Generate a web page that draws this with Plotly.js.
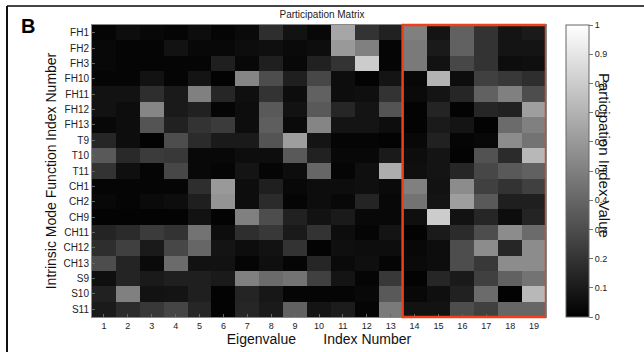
<!DOCTYPE html>
<html>
<head>
<meta charset="utf-8">
<script src="https://cdn.plot.ly/plotly-3.0.1.min.js"></script>
<style>html,body{margin:0;padding:0;background:#fff;}#chart{width:644px;height:352px;}</style>
</head>
<body>
<div id="chart"></div>
<script>
// Eigenvalue index numbers (columns)
const eigenIndex = [1,2,3,4,5,6,7,8,9,10,11,12,13,14,15,16,17,18,19];
// Intrinsic mode function labels (rows, top to bottom)
const imfLabels = ["FH1","FH2","FH3","FH10","FH11","FH12","FH13","T9","T10","T11","CH1","CH2","CH9","CH11","CH12","CH13","S9","S10","S11"];

// Participation index values, one array per row
const rowFH1  = [0.02,0.05,0.03,0.02,0.05,0.02,0.04,0.18,0.07,0.03,0.65,0.20,0.13,0.50,0.08,0.38,0.20,0.08,0.10];
const rowFH2  = [0.03,0.02,0.02,0.07,0.03,0.03,0.05,0.06,0.04,0.05,0.60,0.50,0.02,0.48,0.10,0.38,0.20,0.08,0.08];
const rowFH3  = [0.03,0.02,0.02,0.02,0.02,0.12,0.03,0.12,0.03,0.13,0.20,0.80,0.02,0.48,0.07,0.28,0.20,0.05,0.06];
const rowFH10 = [0.02,0.02,0.07,0.02,0.08,0.01,0.52,0.30,0.12,0.28,0.05,0.01,0.08,0.03,0.70,0.05,0.25,0.22,0.18];
const rowFH11 = [0.07,0.07,0.18,0.10,0.50,0.15,0.06,0.20,0.05,0.38,0.05,0.06,0.20,0.04,0.08,0.15,0.38,0.50,0.30];
const rowFH12 = [0.07,0.05,0.52,0.10,0.13,0.02,0.05,0.35,0.07,0.35,0.15,0.08,0.33,0.01,0.14,0.01,0.15,0.13,0.62];
const rowFH13 = [0.03,0.05,0.33,0.13,0.20,0.23,0.05,0.37,0.04,0.52,0.08,0.08,0.05,0.01,0.10,0.08,0.01,0.42,0.50];
const rowT9   = [0.15,0.05,0.01,0.30,0.17,0.10,0.10,0.33,0.62,0.08,0.02,0.02,0.01,0.03,0.13,0.02,0.03,0.55,0.45];
const rowT10  = [0.35,0.16,0.23,0.22,0.03,0.03,0.05,0.05,0.35,0.13,0.03,0.03,0.10,0.05,0.08,0.01,0.32,0.17,0.72];
const rowT11  = [0.20,0.06,0.02,0.28,0.03,0.02,0.08,0.02,0.05,0.40,0.02,0.06,0.68,0.06,0.08,0.15,0.28,0.35,0.38];
const rowCH1  = [0.02,0.02,0.02,0.02,0.18,0.60,0.05,0.12,0.03,0.05,0.05,0.06,0.04,0.50,0.07,0.55,0.25,0.20,0.25];
const rowCH2  = [0.03,0.02,0.04,0.05,0.12,0.58,0.05,0.17,0.02,0.05,0.03,0.14,0.03,0.45,0.08,0.62,0.35,0.12,0.12];
const rowCH9  = [0.01,0.01,0.01,0.01,0.07,0.01,0.50,0.30,0.13,0.07,0.10,0.03,0.03,0.06,0.80,0.07,0.15,0.05,0.14];
const rowCH11 = [0.14,0.17,0.23,0.20,0.45,0.05,0.18,0.22,0.10,0.20,0.05,0.02,0.08,0.01,0.10,0.17,0.30,0.55,0.42];
const rowCH12 = [0.18,0.25,0.10,0.28,0.40,0.08,0.05,0.07,0.20,0.01,0.06,0.05,0.05,0.03,0.05,0.30,0.55,0.15,0.55];
const rowCH13 = [0.30,0.14,0.04,0.42,0.07,0.07,0.02,0.06,0.02,0.15,0.04,0.06,0.02,0.04,0.05,0.30,0.22,0.55,0.55];
const rowS9   = [0.06,0.14,0.10,0.12,0.12,0.10,0.50,0.42,0.45,0.25,0.08,0.02,0.22,0.01,0.15,0.10,0.25,0.38,0.45];
const rowS10  = [0.13,0.50,0.07,0.08,0.12,0.01,0.14,0.09,0.02,0.02,0.02,0.03,0.35,0.03,0.06,0.13,0.42,0.01,0.72];
const rowS11  = [0.10,0.17,0.22,0.27,0.15,0.01,0.15,0.10,0.38,0.08,0.11,0.02,0.48,0.07,0.07,0.30,0.25,0.40,0.40];

// Colorbar tick labels
const cbTickVals = [0,0.1,0.2,0.3,0.4,0.5,0.6,0.7,0.8,0.9,1];
const cbTickText = ["0","0.1","0.2","0.3","0.4","0.5","0.6","0.7","0.8","0.9","1"];

// Highlighted eigenvalue range
const highlightFrom = 14, highlightTo = 19;

const z = [rowFH1,rowFH2,rowFH3,rowFH10,rowFH11,rowFH12,rowFH13,rowT9,rowT10,rowT11,
           rowCH1,rowCH2,rowCH9,rowCH11,rowCH12,rowCH13,rowS9,rowS10,rowS11];

const trace = {
  type: 'heatmap',
  x: eigenIndex,
  y: imfLabels,
  z: z,
  zmin: 0, zmax: 1,
  colorscale: [[0,'#000000'],[1,'#ffffff']],
  showscale: true,
  colorbar: {
    x: 1.044, xanchor: 'left', xref: 'paper',
    y: 0.5, yanchor: 'middle', len: 1, lenmode: 'fraction',
    thickness: 23, thicknessmode: 'pixels',
    xpad: 0, ypad: 0,
    outlinewidth: 1, outlinecolor: '#666',
    tickvals: cbTickVals, ticktext: cbTickText,
    ticks: 'outside', ticklen: 4, tickcolor: '#777', tickwidth: 1,
    tickfont: {family: 'Liberation Sans, Arial, sans-serif', size: 9, color: '#222'}
  },
  hoverongaps: false
};

const P = (px) => (px - 92) / 454;   // helper for frame only
const Q = (py) => (317 - py) / 292;

const layout = {
  width: 644, height: 352,
  margin: {l: 92, r: 98, t: 25, b: 35},
  paper_bgcolor: '#ffffff', plot_bgcolor: '#ffffff',
  font: {family: 'Liberation Sans, Arial, sans-serif', color: '#222'},
  title: {text: 'Participation Matrix', x: 0.5, xanchor: 'center', y: 1 - 14/352, yanchor: 'middle',
          font: {size: 10, color: '#222'}},
  xaxis: {
    tickvals: eigenIndex, ticktext: eigenIndex.map(String),
    range: [0.5, 19.5], showgrid: false, zeroline: false,
    showline: true, mirror: true, linecolor: '#888', linewidth: 1,
    ticks: 'inside', ticklen: 3, tickcolor: '#666',
    tickfont: {size: 9, color: '#222'},
    title: {text: 'Eigenvalue\u00a0\u00a0\u00a0\u00a0\u00a0\u00a0\u00a0Index Number', standoff: 4,
            font: {size: 14, color: '#111'}}
  },
  yaxis: {
    autorange: 'reversed', showgrid: false, zeroline: false,
    showline: true, mirror: true, linecolor: '#888', linewidth: 1,
    ticks: 'inside', ticklen: 3, tickcolor: '#666',
    tickfont: {size: 10, color: '#222'},
    title: {text: 'Intrinsic Mode Function Index Number', standoff: 3,
            font: {size: 14, color: '#111'}}
  },
  shapes: [
    {type: 'rect', xref: 'x', yref: 'paper', x0: highlightFrom - 0.5, x1: highlightTo + 0.5, y0: 0, y1: 1,
     line: {color: '#f0401a', width: 2.5}, fillcolor: 'rgba(0,0,0,0)'},
    {type: 'line', xref: 'paper', yref: 'paper', x0: P(7), x1: P(644), y0: Q(6), y1: Q(6),
     line: {color: '#444', width: 2}},
    {type: 'line', xref: 'paper', yref: 'paper', x0: P(7), x1: P(7), y0: Q(6), y1: Q(352),
     line: {color: '#111', width: 2}}
  ],
  annotations: [
    {text: '<b>B</b>', xref: 'paper', yref: 'paper', x: P(28), y: Q(26), xanchor: 'center', yanchor: 'middle',
     showarrow: false, font: {size: 20, color: '#000'}},
    {text: 'Participation Index Value', xref: 'paper', yref: 'paper', x: P(605), y: Q(155),
     xanchor: 'center', yanchor: 'middle', textangle: 90, showarrow: false,
     font: {size: 15, color: '#111'}}
  ]
};

Plotly.newPlot('chart', [trace], layout, {displayModeBar: false, staticPlot: true});
</script>
</body>
</html>
